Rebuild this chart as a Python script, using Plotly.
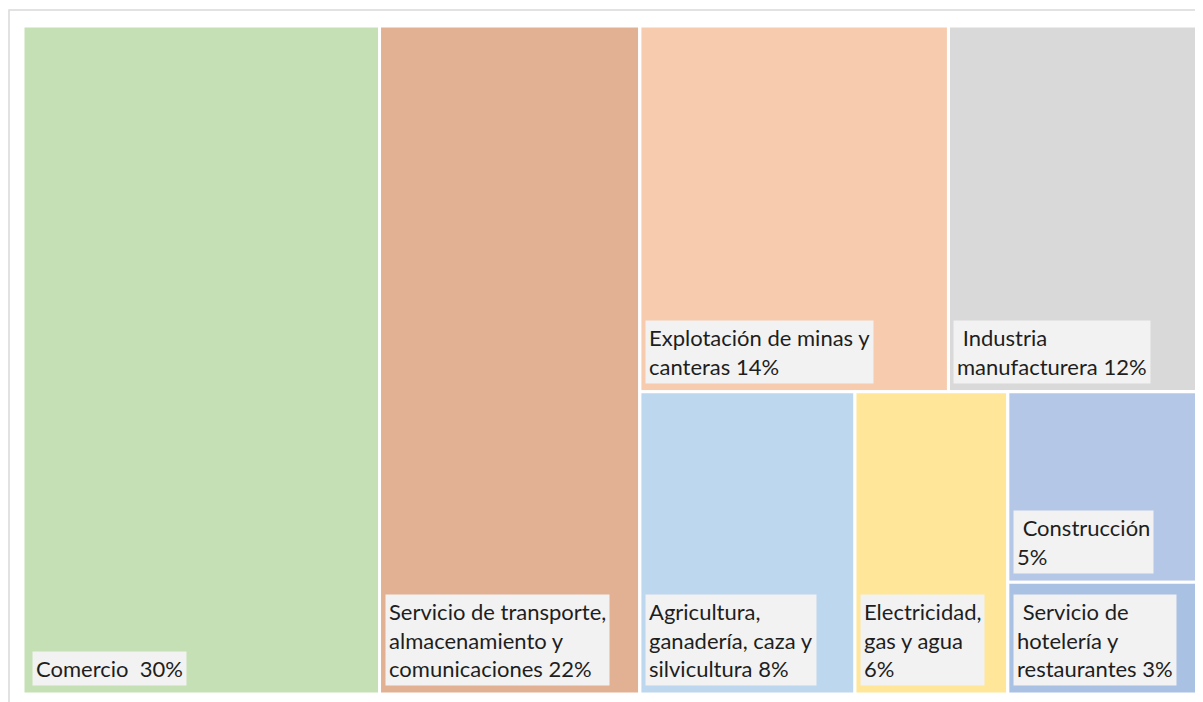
import plotly.graph_objects as go

# ---- data ----
sectors = ["Comercio", "Servicio de transporte, almacenamiento y comunicaciones",
           "Explotación de minas y canteras", "Industria manufacturera",
           "Agricultura, ganadería, caza y silvicultura", "Electricidad, gas y agua",
           "Construcción", "Servicio de hotelería y restaurantes"]
shares = [30.4, 22.2, 14.4, 11.6, 8.3, 5.9, 4.6, 2.7]
label_texts = ["Comercio\u00a0\u00a030%",
               "Servicio de transporte,<br>almacenamiento y<br>comunicaciones 22%",
               "Explotación de minas y<br>canteras 14%",
               "\u00a0Industria<br>manufacturera 12%",
               "Agricultura,<br>ganadería, caza y<br>silvicultura 8%",
               "Electricidad,<br>gas y agua<br>6%",
               "\u00a0Construcción<br>5%",
               "\u00a0Servicio de<br>hotelería y<br>restaurantes 3%"]
# grouping used by the slice-dice layout
group_of = ["Total", "Total", "Fila superior", "Fila superior",
            "Fila inferior", "Fila inferior", "Grupo menor", "Grupo menor"]
group_parent = {"Total": "", "Resto": "Total", "Fila superior": "Resto",
                "Fila inferior": "Resto", "Grupo menor": "Fila inferior"}
colors = ["#c5e0b4", "#e2b092", "#f7cbad", "#d9d9d9", "#bdd7ee", "#ffe699", "#b4c7e7", "#a9c1e2"]

# ---- hierarchy (groups inserted just before their first child) ----
ids, parents, values, node_colors = [], [], [], []

def add_group(g):
    if g in ids:
        return
    if group_parent[g]:
        add_group(group_parent[g])
    ids.append(g); parents.append(group_parent[g]); values.append(0); node_colors.append("#ffffff")

for s, g, v, c in zip(sectors, group_of, shares, colors):
    add_group(g)
    ids.append(s); parents.append(g); values.append(v); node_colors.append(c)

# page body has an 8px margin
W, H = 1195, 694
ML, MR, MT, MB = 15, 6, 18, 8

fig = go.Figure(go.Treemap(
    ids=ids, labels=ids, parents=parents, values=values,
    branchvalues="remainder", sort=False,
    marker=dict(colors=node_colors, line=dict(color="white", width=3),
                pad=dict(t=0, l=0, r=0, b=0)),
    tiling=dict(packing="slice-dice", pad=0),
    textinfo="none", hoverinfo="label+value",
    pathbar=dict(visible=False),
    root=dict(color="white"),
))

# ---- compute tile rectangles (same slice-dice partition) for label boxes ----
children = {}
for i, p in zip(ids, parents):
    if p:
        children.setdefault(p, []).append(i)
val = dict(zip(ids, values))

def total(n):
    return val[n] + sum(total(c) for c in children.get(n, []))

rects = {}
def layout(n, x0, y0, x1, y1, depth):
    rects[n] = (x0, y0, x1, y1)
    kids = children.get(n, [])
    t = sum(total(c) for c in kids)
    pos = 0.0
    for c in kids:
        f0, f1 = pos / t, (pos + total(c)) / t
        pos += total(c)
        if depth % 2 == 0:  # dice: split horizontally
            layout(c, x0 + (x1 - x0) * f0, y0, x0 + (x1 - x0) * f1, y1, depth + 1)
        else:               # slice: split vertically, top to bottom
            layout(c, x0, y1 - (y1 - y0) * f1, x1, y1 - (y1 - y0) * f0, depth + 1)

layout("Total", 0.0, 0.0, 1.0, 1.0, 0)

annotations = []
for k, (s, txt) in enumerate(zip(sectors, label_texts)):
    x0, y0, x1, y1 = rects[s]
    annotations.append(dict(
        x=x0, y=y0, xref="paper", yref="paper", xanchor="left", yanchor="bottom",
        xshift=9 if k == 0 else 5, yshift=8, text=txt, showarrow=False, align="left",
        bgcolor="#f2f2f2", borderpad=3,
        font=dict(family="Lato, Open Sans, sans-serif", size=22, color="#1e1e1e"),
    ))

pw, ph = W - ML - MR, H - MT - MB
fig.update_layout(
    width=W, height=H,
    margin=dict(l=ML, r=MR, t=MT, b=MB),
    paper_bgcolor="white",
    annotations=annotations,
    shapes=[dict(type="rect", xref="paper", yref="paper",
                 x0=(1 - ML) / pw, x1=(W + 5 - ML) / pw,
                 y0=-(MB + 5) / ph, y1=1 + (MT - 2) / ph,
                 line=dict(color="#d9d9d9", width=1.5), layer="below")],
    font=dict(family="Lato, Open Sans, sans-serif"),
)

fig.write_html("out.html")
